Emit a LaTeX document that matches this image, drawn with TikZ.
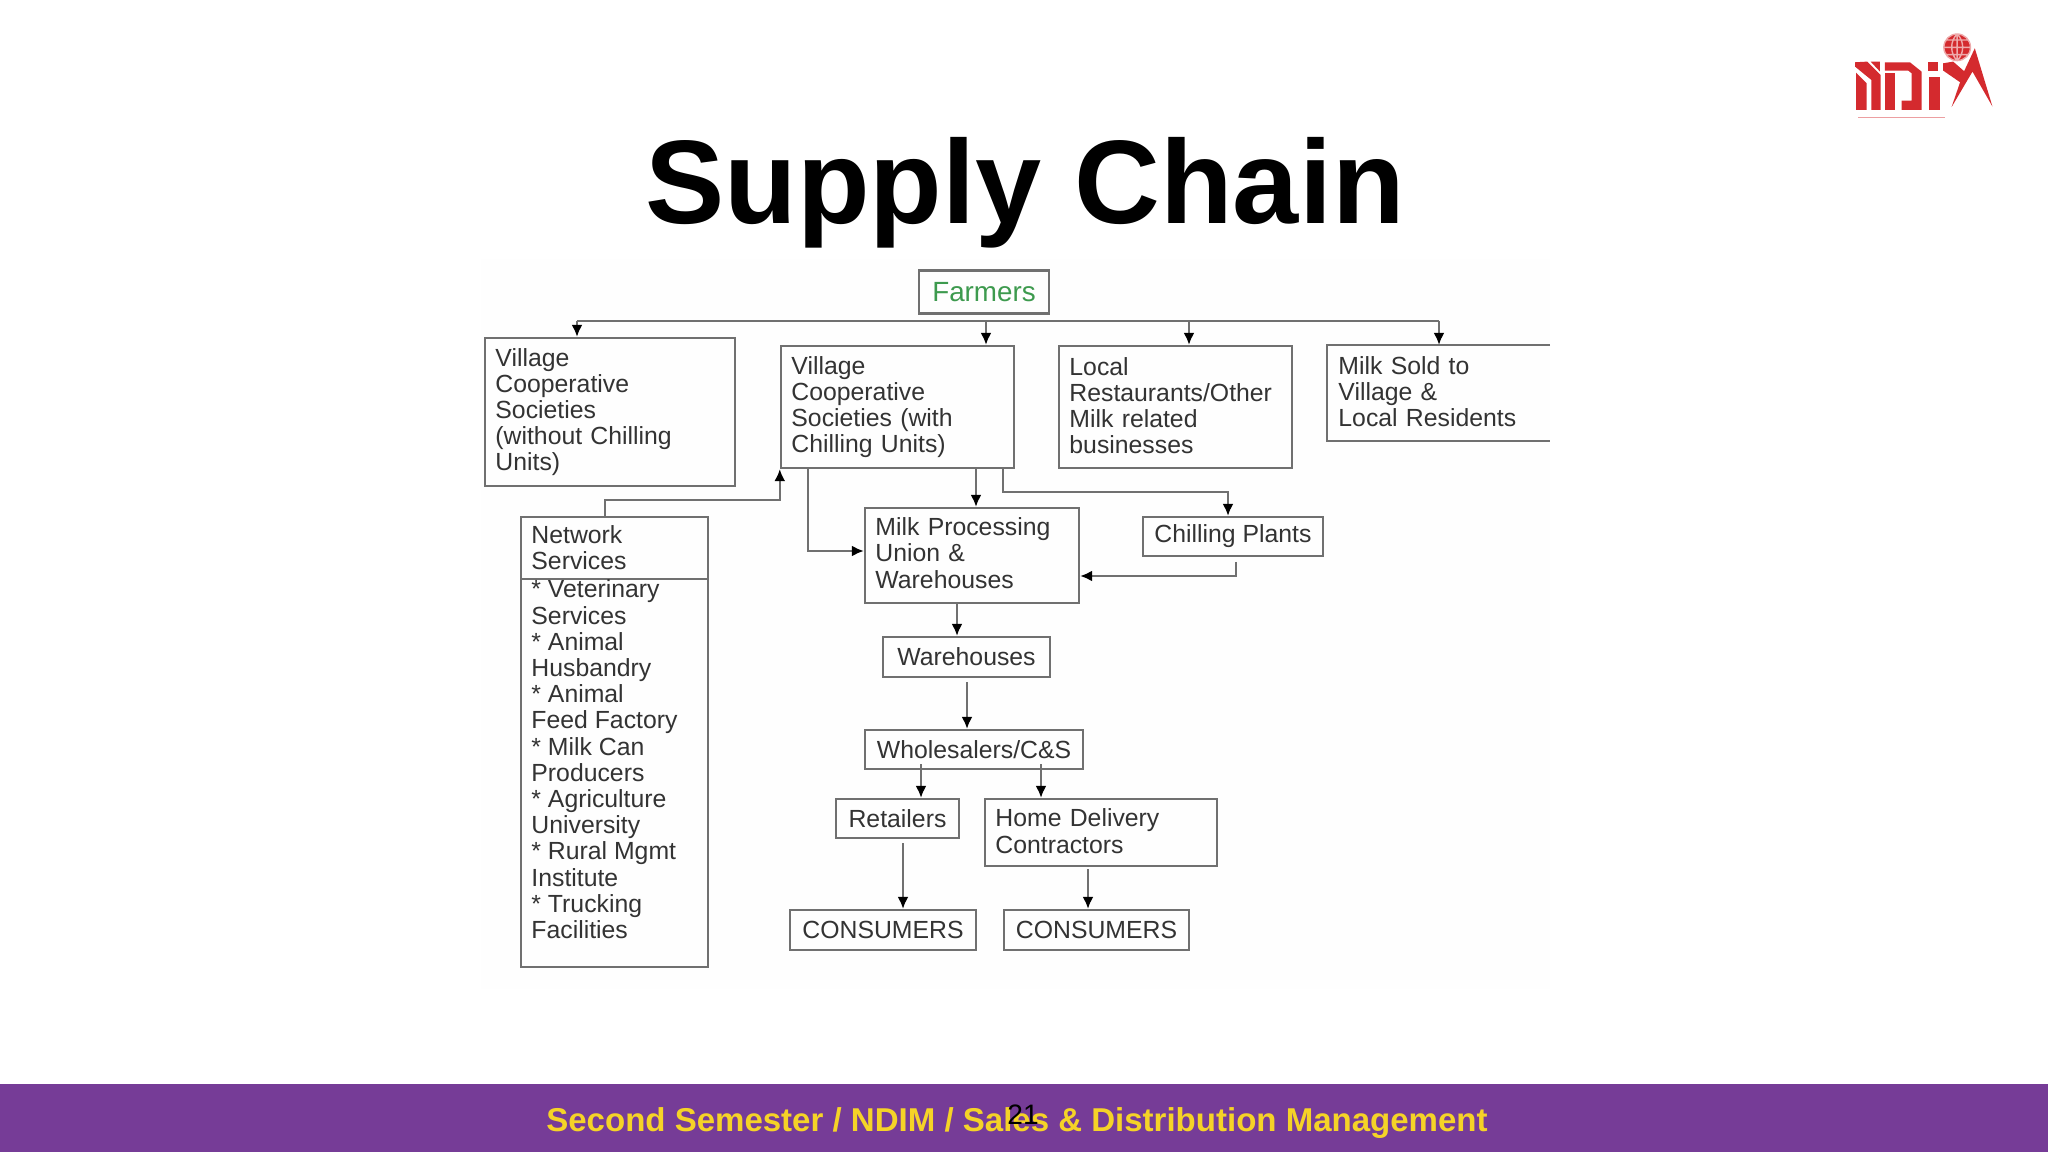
\documentclass[tikz,border=0pt]{standalone}
\usepackage{fontspec}
\setmainfont{Liberation Sans}
\usetikzlibrary{arrows.meta}
\definecolor{barpurple}{HTML}{763C97}
\definecolor{baryellow}{HTML}{F5D327}
\definecolor{boxgray}{HTML}{707070}
\definecolor{boxtext}{HTML}{333333}
\definecolor{farmgreen}{HTML}{3D9A4E}
\definecolor{logored}{HTML}{D42A2E}
\definecolor{panelwhite}{HTML}{FEFEFE}
\tikzset{
    chainbox/.style={draw=boxgray, line width=0.65pt, font=\fontsize{7.05}{7.45}\selectfont, text=boxtext, align=left, inner xsep=0.105cm, inner ysep=0pt},
    flow/.style={draw=boxgray, line width=0.6pt, -{Latex[length=1.2mm,width=1.1mm,black]}},
    plainline/.style={draw=boxgray, line width=0.6pt},
}
\begin{document}
\begin{tikzpicture}[x=0.01cm, y=-0.01cm]
    \useasboundingbox (0,0) rectangle (2048,1152);

    % Scanned panel behind the chart
    \fill[panelwhite] (481,259) rectangle (1550,989);

    % Title
    \node[font=\fontsize{33.8}{40}\selectfont\bfseries] (title) at (1025,193) {Supply Chain};

    % Logo
    \begin{scope}[shift={(1850,30)}, x=0.00333cm, y=-0.00333cm]
        % N
        \fill[logored] (18,128) -- (50,160) -- (50,240) -- (18,240) -- cycle;
        \fill[logored] (15,97) -- (52,95) -- (92,135) -- (92,240) -- (64,240) -- (64,150) -- (15,110) -- cycle;
        \fill[logored] (62,95) -- (90,95) -- (90,125) -- cycle;
        % D
        \fill[logored] (105,130) -- (135,130) -- (135,240) -- (105,240) -- cycle;
        \fill[logored] (105,97) -- (180,97) -- (215,125) -- (215,240) -- (155,240) -- (155,212) -- (185,212) -- (185,130) -- (175,122) -- (105,122) -- cycle;
        % i
        \fill[logored] (235,97) -- (265,97) -- (265,122) -- (235,122) -- cycle;
        \fill[logored] (238,140) -- (270,140) -- (270,240) -- (238,240) -- cycle;
        % M with its peak
        \fill[logored] (280,100) -- (310,95) -- (350,130) -- (335,160) -- (280,122) -- cycle;
        \fill[logored] (375,55) -- (428,230) -- (368,125) -- (305,232) -- (340,130) -- cycle;
        % Globe
        \fill[logored] (322,52) circle (40);
        \draw[white!60!logored, line width=0.4pt] (322,52) circle (40) (322,12) -- (322,92) (282,52) -- (362,52) (290,30) -- (354,30) (290,74) -- (354,74) (322,12) .. controls (300,33) and (300,71) .. (322,92) (322,12) .. controls (344,33) and (344,71) .. (322,92);
        \fill[logored!45] (25,260) rectangle (285,263);
    \end{scope}

    % Boxes of the chart
    \node[chainbox, text=farmgreen, font=\fontsize{7.9}{9}\selectfont, minimum width=1.30cm, minimum height=0.43cm, align=center, inner xsep=0pt] (farmers) at (984,292) {Farmers};
    \node[chainbox, text width=2.29cm, minimum height=1.48cm] (vcsplain) at (610,412) {Village\\Cooperative\\Societies\\(without Chilling\\Units)};
    \node[chainbox, text width=2.12cm, minimum height=1.22cm] (vcschill) at (897.5,407) {Village\\Cooperative\\Societies (with\\Chilling Units)};
    \node[chainbox, text width=2.12cm, minimum height=1.22cm] (local) at (1175.5,407) {Local\\Restaurants/Other\\Milk related\\businesses\rule[-0.03cm]{0pt}{0pt}};

    % This one runs off the edge of the panel
    \node[chainbox, draw=none, text width=2.00cm, minimum height=0.94cm] (sold) at (1438.5,393) {Milk Sold to\\Village \&\\Local Residents\rule[-0.03cm]{0pt}{0pt}};
    \draw[plainline] (sold.north east) -- (sold.north west) -- (sold.south west) -- (sold.south east);

    % Network services
    \node[chainbox, text width=1.66cm, minimum height=0.62cm] (network) at (614.5,548) {Network\\Services};
    \node[chainbox, minimum width=1.87cm, minimum height=3.88cm] (netlist) at (614.5,773) {};
    \node[chainbox, draw=none, anchor=north west, yshift=-0.01cm] (netitems) at (netlist.north west) {* Veterinary\\Services\\* Animal\\Husbandry\\* Animal\\Feed Factory\\* Milk Can\\Producers\\* Agriculture\\University\\* Rural Mgmt\\Institute\\* Trucking\\Facilities};

    % Middle column
    \node[chainbox, text width=1.93cm, minimum height=0.95cm] (union) at (972,555.5) {Milk Processing\\Union \&\\Warehouses\rule[-0.05cm]{0pt}{0pt}};
    \node[chainbox, minimum width=1.80cm, minimum height=0.39cm] (chilling) at (1233,536.5) {Chilling Plants};
    \node[chainbox, minimum width=1.67cm, minimum height=0.40cm] (warehouses) at (966.5,657) {Warehouses};
    \node[chainbox, minimum width=2.18cm, minimum height=0.39cm] (wholesalers) at (974,749.5) {Wholesalers/C\&S};
    \node[chainbox, minimum width=1.23cm, minimum height=0.39cm] (retailers) at (897.5,818.5) {Retailers};
    \node[chainbox, text width=2.11cm, minimum height=0.67cm] (home) at (1101,832.5) {Home Delivery\\Contractors\rule[-0.03cm]{0pt}{0pt}};
    \node[chainbox, minimum width=1.86cm, minimum height=0.40cm] (consa) at (883,930) {CONSUMERS};
    \node[chainbox, minimum width=1.85cm, minimum height=0.40cm] (consb) at (1096.5,930) {CONSUMERS};

    % Bus under Farmers
    \coordinate (busleft) at (577,321);
    \coordinate (busmid) at (986,321);
    \coordinate (buslocal) at (1189,321);
    \coordinate (busright) at (1439,321);
    \draw[plainline] (busleft) -- (busright);
    \draw[flow] (busleft) -- (busleft |- vcsplain.north);
    \draw[flow] (busmid) -- (busmid |- vcschill.north);
    \draw[flow] (buslocal) -- (buslocal |- local.north);
    \draw[flow] (busright) -- (busright |- sold.north);

    % Out of the chilling societies
    \coordinate (tounion) at (976,468);
    \coordinate (sideunion) at (808,551);
    \coordinate (tochill) at (1003,468);
    \coordinate (chillbend) at (1228,492);
    \draw[flow] (tounion) -- (tounion |- union.north);
    \draw[flow] (sideunion |- vcschill.south) -- (sideunion) -- (sideunion -| union.west);
    \draw[flow] (tochill) -- (tochill |- chillbend) -- (chillbend) -- (chillbend |- chilling.north);

    % Chilling plants back to the union
    \coordinate (chillout) at (1236,562);
    \coordinate (chillin) at (1236,576);
    \draw[flow] (chillout) -- (chillin) -- (chillin -| union.east);

    % Network services up to the societies
    \coordinate (netup) at (605,517);
    \coordinate (netbend) at (605,500);
    \draw[flow] (netup) -- (netbend) -- (netbend -| vcschill.south west) -- (vcschill.south west);

    % Down the middle column
    \coordinate (towarehouse) at (957,603);
    \coordinate (towholesale) at (967,682);
    \coordinate (toretail) at (921,764);
    \coordinate (tohome) at (1041,764);
    \coordinate (toconsa) at (903,843);
    \coordinate (toconsb) at (1088,869);
    \draw[flow] (towarehouse) -- (towarehouse |- warehouses.north);
    \draw[flow] (towholesale) -- (towholesale |- wholesalers.north);
    \draw[flow] (toretail) -- (toretail |- retailers.north);
    \draw[flow] (tohome) -- (tohome |- home.north);
    \draw[flow] (toconsa) -- (toconsa |- consa.north);
    \draw[flow] (toconsb) -- (toconsb |- consb.north);

    % Footer bar
    \fill[barpurple] (0,1084) rectangle (2048,1152);
    \node[font=\fontsize{9.39}{12}\selectfont\bfseries, text=baryellow] (footer) at (1017,1123) {Second Semester / NDIM / Sales \& Distribution Management};
    \node[font=\fontsize{8}{10}\selectfont] (pagenum) at (1023,1115) {21};
\end{tikzpicture}
\end{document}
